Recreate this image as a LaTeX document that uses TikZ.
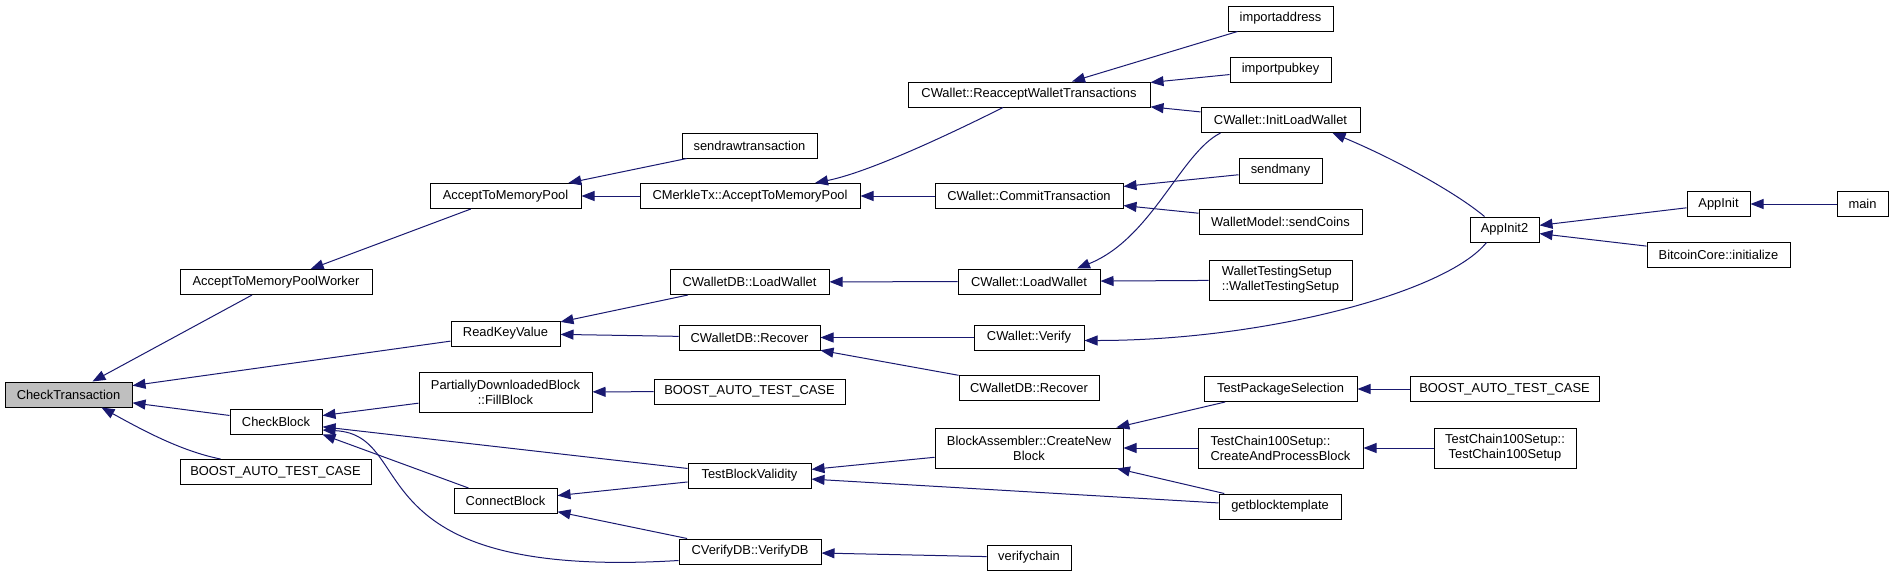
\documentclass[tikz,border=0pt]{standalone}
\usepackage{fontspec}
\setmainfont{Liberation Sans}
\usepackage{tikz}
\usetikzlibrary{arrows.meta}
\definecolor{callline}{RGB}{25,25,112}
\definecolor{calleefill}{RGB}{191,191,191}

\begin{document}
\begin{tikzpicture}[x=1pt,y=-1pt]
\tikzset{fn/.style={draw=black, line width=1pt, fill=white, inner sep=0pt, minimum height=25pt},
fn2/.style={fn, minimum height=40pt, align=center},
>={Triangle[length=13pt,width=10pt]},
callarrow/.style={<-, draw=callline, fill=none, line width=1pt}}
\fontsize{12.9pt}{15pt}
\selectfont
\useasboundingbox (0,0) rectangle (1897,576);
\node (ct) at (68.5,394.5) [fn, minimum width=127pt, fill=calleefill] {CheckTransaction};
\node (atmpw) at (276,282) [fn, minimum width=192pt] {AcceptToMemoryPoolWorker};
\node (rkv) at (505.5,333.5) [fn, minimum width=109pt] {ReadKeyValue};
\node (cb) at (276,421.5) [fn, minimum width=92pt] {CheckBlock};
\node (btc1) at (275.5,472) [fn, minimum width=191pt] {BOOST\_AUTO\_TEST\_CASE};
\node (atmp) at (505.5,196) [fn, minimum width=151pt] {AcceptToMemoryPool};
\node (pdbfill) at (505.5,392) [fn2, minimum width=173pt] {PartiallyDownloadedBlock\\::FillBlock};
\node (conn) at (505.5,501) [fn, minimum width=103pt] {ConnectBlock};
\node (sendraw) at (749.5,145.5) [fn, minimum width=135pt] {sendrawtransaction};
\node (mtx) at (750,196) [fn, minimum width=220pt] {CMerkleTx::AcceptToMemoryPool};
\node (dbload) at (749.5,282) [fn, minimum width=159pt] {CWalletDB::LoadWallet};
\node (dbrec) at (749.5,337.5) [fn, minimum width=141pt] {CWalletDB::Recover};
\node (btc2) at (749.5,391.5) [fn, minimum width=191pt] {BOOST\_AUTO\_TEST\_CASE};
\node (tbv) at (749.5,475.5) [fn, minimum width=123pt] {TestBlockValidity};
\node (vdb) at (750,551.5) [fn, minimum width=142pt] {CVerifyDB::VerifyDB};
\node (reacc) at (1029,94.5) [fn, minimum width=242pt] {CWallet::ReacceptWalletTransactions};
\node (commit) at (1029,196) [fn, minimum width=188pt] {CWallet::CommitTransaction};
\node (wload) at (1029,281.5) [fn, minimum width=142pt] {CWallet::LoadWallet};
\node (wverify) at (1029,337.5) [fn, minimum width=110pt] {CWallet::Verify};
\node (dbrec2) at (1029,388) [fn, minimum width=140pt] {CWalletDB::Recover};
\node (cnb) at (1029,448) [fn2, minimum width=188pt] {BlockAssembler::CreateNew\\Block};
\node (vchain) at (1029,557.5) [fn, minimum width=84pt] {verifychain};
\node (impaddr) at (1280.5,18.5) [fn, minimum width=105pt] {importaddress};
\node (imppub) at (1280.5,69.5) [fn, minimum width=101pt] {importpubkey};
\node (initload) at (1280.5,120) [fn, minimum width=159pt] {CWallet::InitLoadWallet};
\node (sendmany) at (1280.5,170.5) [fn, minimum width=83pt] {sendmany};
\node (sendcoins) at (1280.5,221.5) [fn, minimum width=163pt] {WalletModel::sendCoins};
\node (wts) at (1280.5,280) [fn2, align=left, minimum width=143pt] {WalletTestingSetup\\::WalletTestingSetup};
\node (tps) at (1280.5,389) [fn, minimum width=153pt] {TestPackageSelection};
\node (capb) at (1280.5,448) [fn2, align=left, minimum width=165pt] {TestChain100Setup::\\CreateAndProcessBlock};
\node (gbt) at (1280,506.5) [fn, minimum width=122pt] {getblocktemplate};
\node (appinit2) at (1504.5,229.5) [fn, minimum width=69pt] {AppInit2};
\node (btc3) at (1504.5,389) [fn, minimum width=189pt] {BOOST\_AUTO\_TEST\_CASE};
\node (tc100) at (1505,448) [fn2, minimum width=142pt] {TestChain100Setup::\\TestChain100Setup};
\node (appinit) at (1718.5,204) [fn, minimum width=63pt] {AppInit};
\node (bcinit) at (1718.5,254.5) [fn, minimum width=143pt] {BitcoinCore::initialize};
\node (main) at (1862.5,204) [fn, minimum width=51pt] {main};

\draw[callarrow] (ct) -- (atmpw);
\draw[callarrow] (ct) -- (rkv);
\draw[callarrow] (ct) -- (cb);
\draw[callarrow] ([xshift=33pt]ct.south) .. controls +(40,22) and +(-40,-8) .. ([xshift=-55pt]btc1.north);
\draw[callarrow] (atmpw) -- (atmp);
\draw[callarrow] (atmp) -- (sendraw);
\draw[callarrow] (atmp) -- (mtx);
\draw[callarrow] ([xshift=65pt]mtx.north) .. controls +(60,-12) and +(-30,15) .. ([xshift=-26pt]reacc.south);
\draw[callarrow] (mtx) -- (commit);
\draw[callarrow] (reacc) -- (impaddr);
\draw[callarrow] (reacc) -- (imppub);
\draw[callarrow] (reacc) -- (initload);
\draw[callarrow] (commit) -- (sendmany);
\draw[callarrow] (commit) -- (sendcoins);
\draw[callarrow] ([xshift=48pt]wload.north) .. controls +(75,-30) and +(-40,20) .. ([xshift=-60pt]initload.south);
\draw[callarrow] ([xshift=52pt]initload.south) .. controls +(60,25) and +(-30,-25) .. ([xshift=-20pt]appinit2.north);
\draw[callarrow] (appinit2) -- (appinit);
\draw[callarrow] (appinit2) -- (bcinit);
\draw[callarrow] (appinit) -- (main);
\draw[callarrow] (rkv) -- (dbload);
\draw[callarrow] (rkv) -- (dbrec);
\draw[callarrow] (dbload) -- (wload);
\draw[callarrow] (wload) -- (wts);
\draw[callarrow] (dbrec) -- (wverify);
\draw[callarrow] (dbrec) -- (dbrec2);
\draw[callarrow] ([yshift=-3pt]wverify.east) .. controls +(180,0) and +(-40,50) .. ([xshift=-18pt]appinit2.south);
\draw[callarrow] (cb) -- (pdbfill);
\draw[callarrow] (pdbfill) -- (btc2);
\draw[callarrow] (cb) -- (tbv);
\draw[callarrow] (cb.south east) -- ([xshift=-37pt]conn.north);
\draw[callarrow] ([yshift=-8.5pt]cb.east) .. controls +(98,5) and +(-329,20) .. ([yshift=-9pt]vdb.west);
\draw[callarrow] (conn) -- (tbv);
\draw[callarrow] (conn) -- (vdb);
\draw[callarrow] (vdb) -- (vchain);
\draw[callarrow] (tbv) -- (cnb);
\draw[callarrow] (tbv) -- (gbt);
\draw[callarrow] (cnb) -- (tps);
\draw[callarrow] (cnb) -- (capb);
\draw[callarrow] (cnb) -- (gbt);
\draw[callarrow] (tps) -- (btc3);
\draw[callarrow] (capb) -- (tc100);

\end{tikzpicture}
\end{document}
